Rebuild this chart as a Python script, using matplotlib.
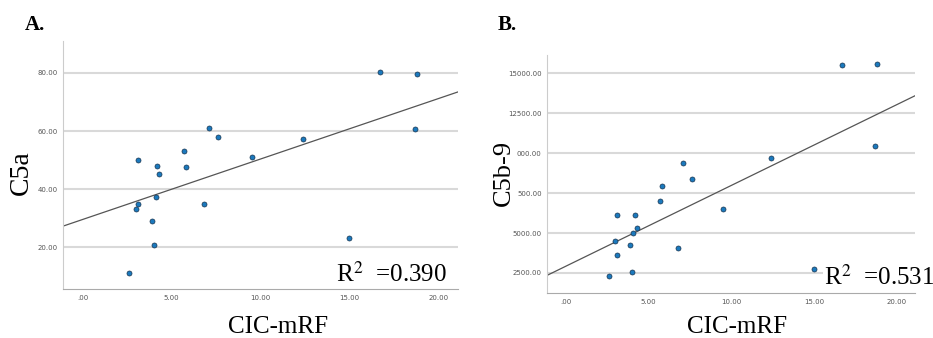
import numpy as np
import matplotlib
matplotlib.use("Agg")
import matplotlib.pyplot as plt

plt.rcParams["mathtext.fontset"] = "stix"

# CIC-mRF values (same patients in both panels)
cic_mrf = [2.6, 3.09, 3.09, 2.98, 3.89, 3.99, 4.1, 4.19, 4.3, 5.69,
           5.8, 6.81, 7.1, 7.6, 9.51, 12.39, 15.0, 16.7, 18.8, 18.7]
c5a = [11.1, 50.2, 34.8, 33.3, 29.0, 20.9, 37.3, 48.0, 45.1, 53.1,
       47.7, 34.8, 61.2, 58.1, 51.0, 57.3, 23.3, 80.5, 79.6, 60.6]
c5b9 = [2290, 6150, 3600, 4500, 4230, 2540, 4980, 6120, 5310, 6980,
        7920, 4040, 9380, 8350, 6520, 9670, 2770, 15480, 15540, 10460]

# regression lines as drawn (intercept, slope)
fit_a = (29.6, 2.08)
fit_b = (2915, 505.8)

r2_a = "0.390"
r2_b = "0.531"

xticks = [0, 5, 10, 15, 20]
xticklabels = [".00", "5.00", "10.00", "15.00", "20.00"]
yticks_a = [20, 40, 60, 80]
yticklabels_a = ["20.00", "40.00", "60.00", "80.00"]
yticks_b = [2500, 5000, 7500, 10000, 12500, 15000]
# labels partly hidden behind the axis title in the original
yticklabels_b = ["2500.00", "5000.00", "500.00", "000.00", "12500.00", "15000.00"]

serif = ["Liberation Serif", "DejaVu Serif"]

fig = plt.figure(figsize=(9.33, 3.38), dpi=100)
ax_a = fig.add_axes([0.0675, 0.145, 0.4234, 0.7337])
ax_b = fig.add_axes([0.5866, 0.1322, 0.3944, 0.705])


def style(ax, ylim, yticks, ylabels):
    ax.set_xlim(-1.1, 21.1)
    ax.set_ylim(*ylim)
    ax.set_xticks(xticks)
    ax.set_xticklabels(xticklabels)
    ax.set_yticks(yticks)
    ax.set_yticklabels(ylabels)
    ax.tick_params(length=0, labelsize=5, colors="#555555", pad=4)
    ax.grid(axis="y", color="#d9d9d9", linewidth=1.5)
    ax.set_axisbelow(True)
    for s in ["top", "right"]:
        ax.spines[s].set_visible(False)
    ax.spines["left"].set_color("#cccccc")
    ax.spines["bottom"].set_color("#aaaaaa")


def panel(ax, y, fit, ylim, yticks, ylabels):
    style(ax, ylim, yticks, ylabels)
    xs = np.array([-1.1, 21.1])
    ax.plot(xs, fit[0] + fit[1] * xs, color="#555555", linewidth=0.9, zorder=2)
    ax.scatter(cic_mrf, y, s=13, color="#1b79bd", edgecolor="#1a3550",
               linewidth=0.5, zorder=3)


panel(ax_a, c5a, fit_a, (5.7, 91), yticks_a, yticklabels_a)
panel(ax_b, c5b9, fit_b, (1230, 16125), yticks_b, yticklabels_b)

# axis titles
fig.text(21 / 933, 1 - 173 / 338, "C5a", rotation=90, ha="center", va="center",
         fontsize=20, family=serif)
fig.text(504 / 933, 1 - 173 / 338, "C5b-9", rotation=90, ha="center", va="center",
         fontsize=19, family=serif)
fig.text(278 / 933, 1 - 333 / 338, "CIC-mRF", ha="center", va="baseline",
         fontsize=18, family=serif)
fig.text(737 / 933, 1 - 333 / 338, "CIC-mRF", ha="center", va="baseline",
         fontsize=18, family=serif)

# panel letters
fig.text(25 / 933, 1 - 30 / 338, "A.", fontsize=15, fontweight="bold", family=serif)
fig.text(498 / 933, 1 - 30 / 338, "B.", fontsize=15, fontweight="bold", family=serif)

# R squared
fig.text(447 / 933, 1 - 282 / 338, "R$^{2}$  =" + r2_a, ha="right", va="baseline",
         fontsize=18, family=serif,
         bbox=dict(facecolor="white", edgecolor="none", pad=0.5))
fig.text(824 / 933, 1 - 285 / 338, "R$^{2}$  =" + r2_b, ha="left", va="baseline",
         fontsize=18, family=serif,
         bbox=dict(facecolor="white", edgecolor="none", pad=0.5))

fig.savefig("out.png", dpi=100)
